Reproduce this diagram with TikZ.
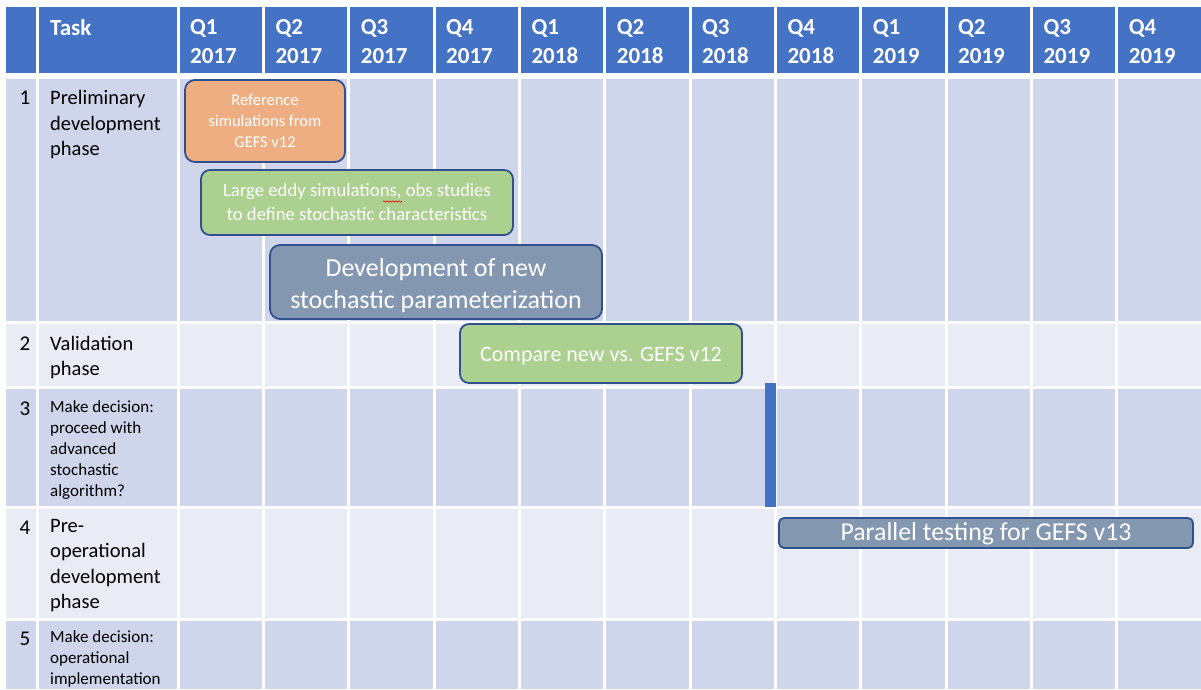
\documentclass[tikz,border=0pt]{standalone}
\usepackage{fontspec}
\setmainfont{Carlito}
\usetikzlibrary{decorations.pathmorphing}
\definecolor{hdr}{HTML}{4472C4}
\definecolor{rowA}{HTML}{CFD5EA}
\definecolor{rowB}{HTML}{E9EBF5}
\definecolor{barOrange}{HTML}{EEAE82}
\definecolor{barGreen}{HTML}{ABD08F}
\definecolor{barSlate}{HTML}{8497B0}
\definecolor{bord}{HTML}{2F528F}
\newcommand{\fsz}[2]{\fontsize{#1}{#2}\selectfont}
\tikzset{
  hdrtext/.style={anchor=north west, inner sep=0pt, text=white, align=left, font=\fsz{23}{29}\bfseries},
  tasktext/.style={anchor=north west, inner sep=0pt, text=black, align=left, font=\fsz{20.5}{25.5}},
  smalltask/.style={anchor=north west, inner sep=0pt, text=black, align=left, font=\fsz{17}{21}},
  numtext/.style={anchor=north, inner sep=0pt, text=black, font=\fsz{21}{25}},
  bar/.style={draw=bord, line width=1.8pt, text=white, align=center, inner sep=0pt},
  gridline/.style={white, line width=3pt}
}
\begin{document}
\begin{tikzpicture}[x=1pt, y=-1pt]
\useasboundingbox (0,0) rectangle (1201,689);
\fill[white] (0,0) rectangle (1201,689);
% header and row bands
\fill[hdr] (6,7) rectangle (1201,73);
\fill[rowA] (6,79) rectangle (1201,320.5);
\fill[rowB] (6,323.5) rectangle (1201,385.5);
\fill[rowA] (6,388.5) rectangle (1201,505.5);
\fill[rowB] (6,508.5) rectangle (1201,617.5);
\fill[rowA] (6,620.5) rectangle (1201,689);
% vertical grid lines
\foreach \x in {37,178,263.33,348.67,434,519.33,604.67,690,775.33,860.67,946,1031.33,1116.67}
  \draw[gridline] (\x,0) -- (\x,689);
% header texts
\node[hdrtext] (task) at (50,19.5) {Task};
\foreach \q/\y [count=\i from 0] in {Q1/2017,Q2/2017,Q3/2017,Q4/2017,Q1/2018,Q2/2018,Q3/2018,Q4/2018,Q1/2019,Q2/2019,Q3/2019,Q4/2019}
  \node[hdrtext] (h\i) at ({178+85.333*\i+12},19.5) {\q\\\y};
% row numbers
\node[numtext] (n1) at (25,91) {1};
\node[numtext] (n2) at (25,337) {2};
\node[numtext] (n3) at (25,402) {3};
\node[numtext] (n4) at (25,521) {4};
\node[numtext] (n5) at (25,632) {5};
% task texts
\node[tasktext] (t1) at (50,90.5) {Preliminary\\development\\phase};
\node[tasktext] (t2) at (50,336) {Validation\\phase};
\node[smalltask] (t3) at (50,400) {Make decision:\\proceed with\\advanced\\stochastic\\algorithm?};
\node[tasktext] (t4) at (50,519) {Pre-\\operational\\development\\phase};
\node[smalltask] (t5) at (50,630.5) {Make decision:\\operational\\implementation};
% bars
\node[bar, fill=barOrange, rounded corners=10pt, minimum width=160pt, minimum height=82pt, font=\fsz{16.5}{21}] (ref) at (265,121) {Reference\\simulations from\\GEFS v12};
\node[bar, fill=barGreen, rounded corners=9pt, minimum width=312pt, minimum height=65pt, font=\fsz{18.7}{24}] (les) at (357,202.5) {Large eddy simulations, obs studies\\to define stochastic characteristics};
\node[bar, fill=barSlate, rounded corners=10pt, minimum width=332pt, minimum height=74pt, font=\fsz{26}{32}] (dev) at (436,282) {\rule{0pt}{25pt}Development of new\\stochastic parameterization};
\node[bar, fill=barGreen, rounded corners=9pt, minimum width=282pt, minimum height=59pt, font=\fsz{22}{26}] (cmp) at (601,353.5) {\rule{0pt}{19pt}Compare new vs. GEFS v12};
\node[fill=hdr, inner sep=0pt, minimum width=11pt, minimum height=124pt] (dec) at (770.5,445) {};
\node[bar, fill=barSlate, rounded corners=5pt, minimum width=414pt, minimum height=30pt, font=\fsz{25.8}{28}] (par) at (986,533) {\rule{0pt}{20pt}Parallel testing for GEFS v13};
% spell-check squiggle under "obs"
\draw[red, line width=0.6pt, decorate, decoration={snake, amplitude=0.7pt, segment length=3pt}] (383,201.5) -- (402,201.5);
\end{tikzpicture}
\end{document}
